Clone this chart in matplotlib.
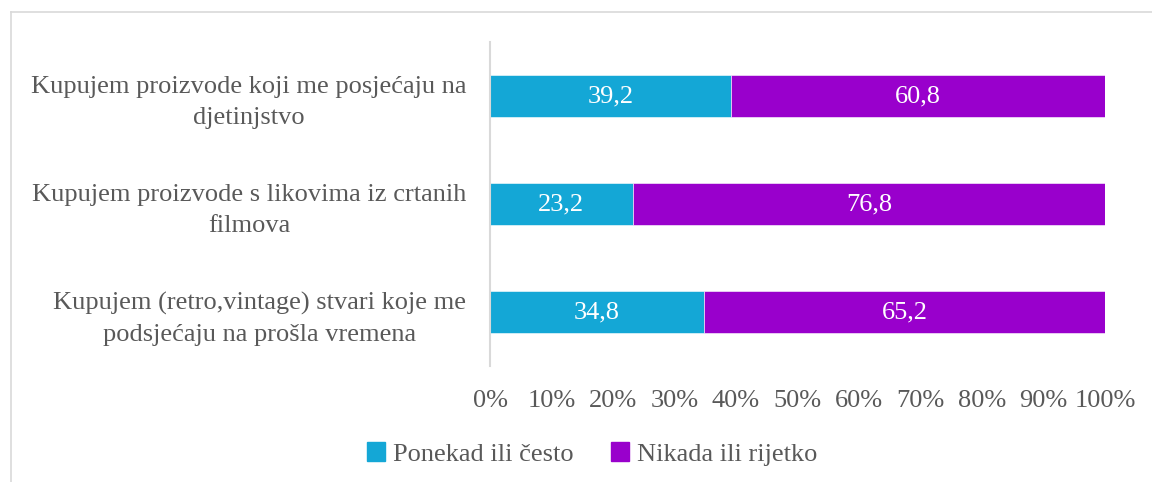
import matplotlib
matplotlib.use("Agg")
import matplotlib.pyplot as plt
from matplotlib.lines import Line2D
from matplotlib.patches import Patch

categories = [
    "Kupujem proizvode koji me posjećaju na\ndjetinjstvo",
    "Kupujem proizvode s likovima iz crtanih\nfilmova",
    "Kupujem (retro,vintage) stvari koje me\npodsjećaju na prošla vremena",
]
ponekad = [39.2, 23.2, 34.8]
nikada = [60.8, 76.8, 65.2]
series_names = ["Ponekad ili često", "Nikada ili rijetko"]
colors = ["#14A7D6", "#9900CC"]
xticks = [0, 10, 20, 30, 40, 50, 60, 70, 80, 90, 100]

TXT = "#595959"
FS = 19
plt.rcParams["font.family"] = ["Liberation Serif", "DejaVu Serif"]

fig = plt.figure(figsize=(11.52, 4.82), dpi=100)
ax = fig.add_axes([490 / 1152, 1 - 366 / 482, 615 / 1152, 324 / 482])

ypos = list(range(len(categories)))[::-1]
ax.barh(ypos, ponekad, height=0.39, color=colors[0], edgecolor="white", linewidth=0.4)
ax.barh(ypos, nikada, left=ponekad, height=0.39, color=colors[1], edgecolor="white", linewidth=0.4)

for y, a, b in zip(ypos, ponekad, nikada):
    ax.text(a / 2, y, f"{a:.1f}".replace(".", ","), ha="center", va="center",
            color="white", fontsize=FS)
    ax.text(a + b / 2, y, f"{b:.1f}".replace(".", ","), ha="center", va="center",
            color="white", fontsize=FS)

ax.set_xlim(0, 100)
ax.set_ylim(-0.5, 2.5)
ax.set_xticks(xticks)
ax.set_xticklabels([f"{t}%" for t in xticks], fontsize=FS, color=TXT)
ax.tick_params(axis="x", length=0, pad=17)
ax.set_yticks(ypos)
ax.set_yticklabels(categories, fontsize=FS, color=TXT, ha="right", multialignment="center",
                   linespacing=1.5)
ax.tick_params(axis="y", length=0, pad=17)
for s in ["top", "right", "bottom"]:
    ax.spines[s].set_visible(False)
ax.spines["left"].set_color("#D9D9D9")
ax.spines["left"].set_linewidth(1.5)

# chart frame (cut off on the right and bottom)
fig.add_artist(Line2D([11 / 1152, 11 / 1152], [0, 1 - 12 / 482], color="#D9D9D9", lw=1.2))
fig.add_artist(Line2D([11 / 1152, 1], [1 - 12 / 482, 1 - 12 / 482], color="#D9D9D9", lw=1.2))

handles = [Patch(color=c) for c in colors]
fig.legend(handles, series_names, loc="center", bbox_to_anchor=(592 / 1152, 1 - 454 / 482),
           ncol=2, frameon=False, fontsize=FS, labelcolor=TXT, handlelength=0.7,
           handleheight=0.7, handletextpad=0.3, columnspacing=1.4)

fig.savefig("out.png", dpi=100)
